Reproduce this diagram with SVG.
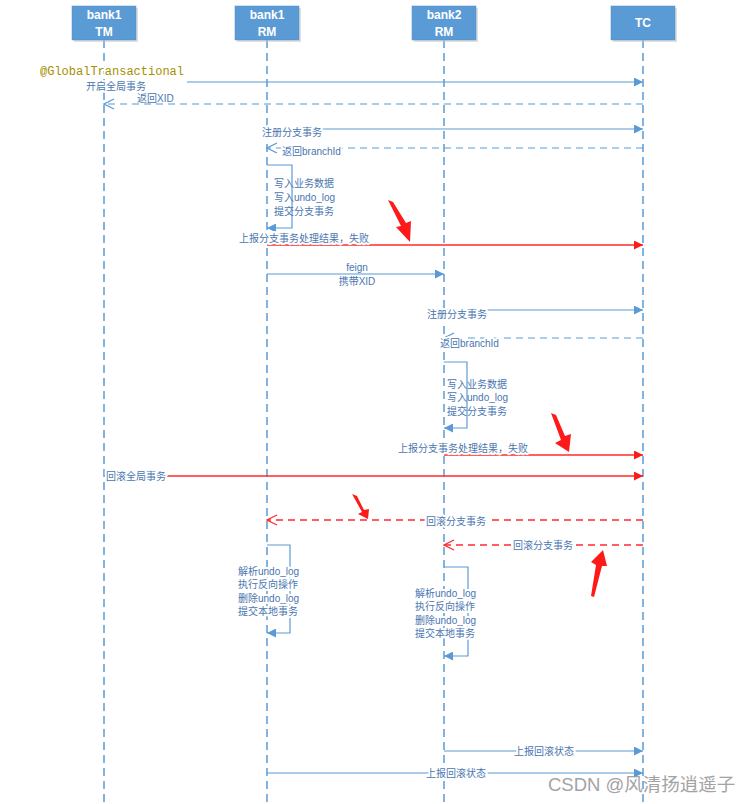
<svg xmlns="http://www.w3.org/2000/svg" width="754" height="804" viewBox="0 0 754 804">
<style>
.hdr{fill:#5B9BD5;stroke:#4F8CC6;stroke-width:0.5}
.shadow{fill:#c9c9c9;opacity:0.6}
.ht{font-family:"Liberation Sans","Noto Sans CJK SC",sans-serif;font-size:12px;font-weight:bold;fill:#fff;text-anchor:middle}
.life{stroke:#5B9BD5;stroke-width:1.5;stroke-dasharray:8,5;fill:none}
.msg{stroke:#5B9BD5;stroke-width:1.2;fill:none}
.ret{stroke:#5B9BD5;stroke-width:1.2;stroke-dasharray:7,5;fill:none}
.rmsg{stroke:#FF2A2A;stroke-width:1.3;fill:none}
.rret{stroke:#FF2A2A;stroke-width:1.3;stroke-dasharray:7,5;fill:none}
.lbl{font-family:"Liberation Sans","Noto Sans CJK SC",sans-serif;font-size:10px;fill:#4A76B0}
.bg{stroke:#fff;stroke-width:4;paint-order:stroke;stroke-linejoin:round}
.mid{text-anchor:middle}
.ann{fill:#FF1A1A}
</style>
<defs>
<marker id="af" viewBox="0 0 10 10" refX="10" refY="5" markerWidth="10" markerHeight="9" markerUnits="userSpaceOnUse" orient="auto"><path d="M0,0 L10,5 L0,10 z" fill="#5B9BD5"/></marker>
<marker id="rf" viewBox="0 0 10 10" refX="10" refY="5" markerWidth="10" markerHeight="9" markerUnits="userSpaceOnUse" orient="auto"><path d="M0,0 L10,5 L0,10 z" fill="#FF1A1A"/></marker>
<marker id="ao" viewBox="0 0 12 12" refX="11" refY="6" markerWidth="12" markerHeight="12" markerUnits="userSpaceOnUse" orient="auto"><path d="M1,1 L11,6 L1,11" fill="none" stroke="#5B9BD5" stroke-width="1.2"/></marker>
<marker id="ro" viewBox="0 0 12 12" refX="11" refY="6" markerWidth="12" markerHeight="12" markerUnits="userSpaceOnUse" orient="auto"><path d="M1,1 L11,6 L1,11" fill="none" stroke="#FF2A2A" stroke-width="1.2"/></marker>
</defs>
<rect width="754" height="804" fill="#fff"/>

<g id="lifelines">
<path class="life" d="M104,40 V804"/>
<path class="life" d="M267,40 V804"/>
<path class="life" d="M444,40 V804"/>
<path class="life" d="M643,40 V804"/>
</g>

<g id="bank1-tm">
<rect class="shadow" x="74" y="8" width="64" height="34"/>
<rect class="hdr" x="72" y="6" width="64" height="34"/>
<text class="ht" x="104" y="19">bank1</text><text class="ht" x="104" y="36">TM</text>
</g>
<g id="bank1-rm">
<rect class="shadow" x="237" y="8" width="64" height="34"/>
<rect class="hdr" x="235" y="6" width="64" height="34"/>
<text class="ht" x="267" y="19">bank1</text><text class="ht" x="267" y="36">RM</text>
</g>
<g id="bank2-rm">
<rect class="shadow" x="414" y="8" width="64" height="34"/>
<rect class="hdr" x="412" y="6" width="64" height="34"/>
<text class="ht" x="444" y="19">bank2</text><text class="ht" x="444" y="36">RM</text>
</g>
<g id="tc">
<rect class="shadow" x="613" y="8" width="64" height="34"/>
<rect class="hdr" x="611" y="6" width="64" height="34"/>
<text class="ht" x="643" y="27">TC</text>
</g>

<g id="connectors">
<path class="msg" d="M187,82 H643" marker-end="url(#af)"/>
<path class="ret" d="M643,104 H104" marker-end="url(#ao)"/>
<path class="msg" d="M267,129 H643" marker-end="url(#af)"/>
<path class="ret" d="M643,148 H267" marker-end="url(#ao)"/>
<path class="msg" d="M267,165 H292 V228 H267" marker-end="url(#af)"/>
<path class="rmsg" d="M267,245 H643" marker-end="url(#rf)"/>
<path class="msg" d="M267,274 H444" marker-end="url(#af)"/>
<path class="msg" d="M444,310 H643" marker-end="url(#af)"/>
<path class="ret" d="M643,338 H444" marker-end="url(#ao)"/>
<path class="msg" d="M444,362 H467 V428 H444" marker-end="url(#af)"/>
<path class="rmsg" d="M444,455 H643" marker-end="url(#rf)"/>
<path class="rmsg" d="M104,476 H643" marker-end="url(#rf)"/>
<path class="rret" d="M643,520 H267" marker-end="url(#ro)"/>
<path class="rret" d="M643,545 H444" marker-end="url(#ro)"/>
<path class="msg" d="M267,545 H290 V633 H267" marker-end="url(#af)"/>
<path class="msg" d="M444,567 H468 V656 H444" marker-end="url(#af)"/>
<path class="msg" d="M444,751 H643" marker-end="url(#af)"/>
<path class="msg" d="M267,773 H643" marker-end="url(#af)"/>
</g>

<g id="labels">
<text class="bg" x="40" y="75" font-family="Liberation Mono,monospace" font-size="12" fill="#A68F00">@GlobalTransactional</text>
<text class="lbl bg" x="86" y="90">开启全局事务</text>
<text class="lbl" x="137" y="102">返回XID</text>
<text class="lbl bg" x="262" y="136">注册分支事务</text>
<text class="lbl bg" x="282" y="155">返回branchId</text>
<text class="lbl" x="274" y="187">写入业务数据</text>
<text class="lbl" x="274" y="201">写入undo_log</text>
<text class="lbl" x="274" y="215">提交分支事务</text>
<text class="lbl bg" x="239" y="242">上报分支事务处理结果，失败</text>
<text class="lbl mid" x="357" y="271">feign</text>
<text class="lbl mid" x="357" y="285">携带XID</text>
<text class="lbl bg" x="427" y="318">注册分支事务</text>
<text class="lbl bg" x="440" y="347">返回branchId</text>
<text class="lbl" x="447" y="388">写入业务数据</text>
<text class="lbl" x="447" y="401">写入undo_log</text>
<text class="lbl" x="447" y="415">提交分支事务</text>
<text class="lbl bg" x="398" y="452">上报分支事务处理结果，失败</text>
<text class="lbl bg" x="106" y="480">回滚全局事务</text>
<text class="lbl bg mid" x="456" y="525">回滚分支事务</text>
<text class="lbl bg mid" x="543" y="549">回滚分支事务</text>
<text class="lbl bg" x="238" y="575">解析undo_log</text>
<text class="lbl bg" x="238" y="588">执行反向操作</text>
<text class="lbl bg" x="238" y="602">删除undo_log</text>
<text class="lbl bg" x="238" y="615">提交本地事务</text>
<text class="lbl bg" x="415" y="597">解析undo_log</text>
<text class="lbl bg" x="415" y="610">执行反向操作</text>
<text class="lbl bg" x="415" y="624">删除undo_log</text>
<text class="lbl bg" x="415" y="637">提交本地事务</text>
<text class="lbl bg mid" x="544" y="755">上报回滚状态</text>
<text class="lbl bg mid" x="456" y="777">上报回滚状态</text>
</g>

<g id="annotations">
<polygon class="ann" points="388,200 393,202 406,223 411,221 410,242 396,227 401,226"/>
<polygon class="ann" points="551,413 556,415 565,436 571,434 569,452 555,443 561,440"/>
<polygon class="ann" points="352,494 357,496 364,510 369,509 368,519 358,514 362,512"/>
<polygon class="ann" points="603,550 607,566 602,566 594,597 591,596 596,565 591,562"/>
</g>

<text x="548" y="791" font-family="Liberation Sans,Noto Sans CJK SC,sans-serif" font-size="18.5" fill="#9a9a9a" opacity="0.9">CSDN @风清扬逍遥子</text>
</svg>
